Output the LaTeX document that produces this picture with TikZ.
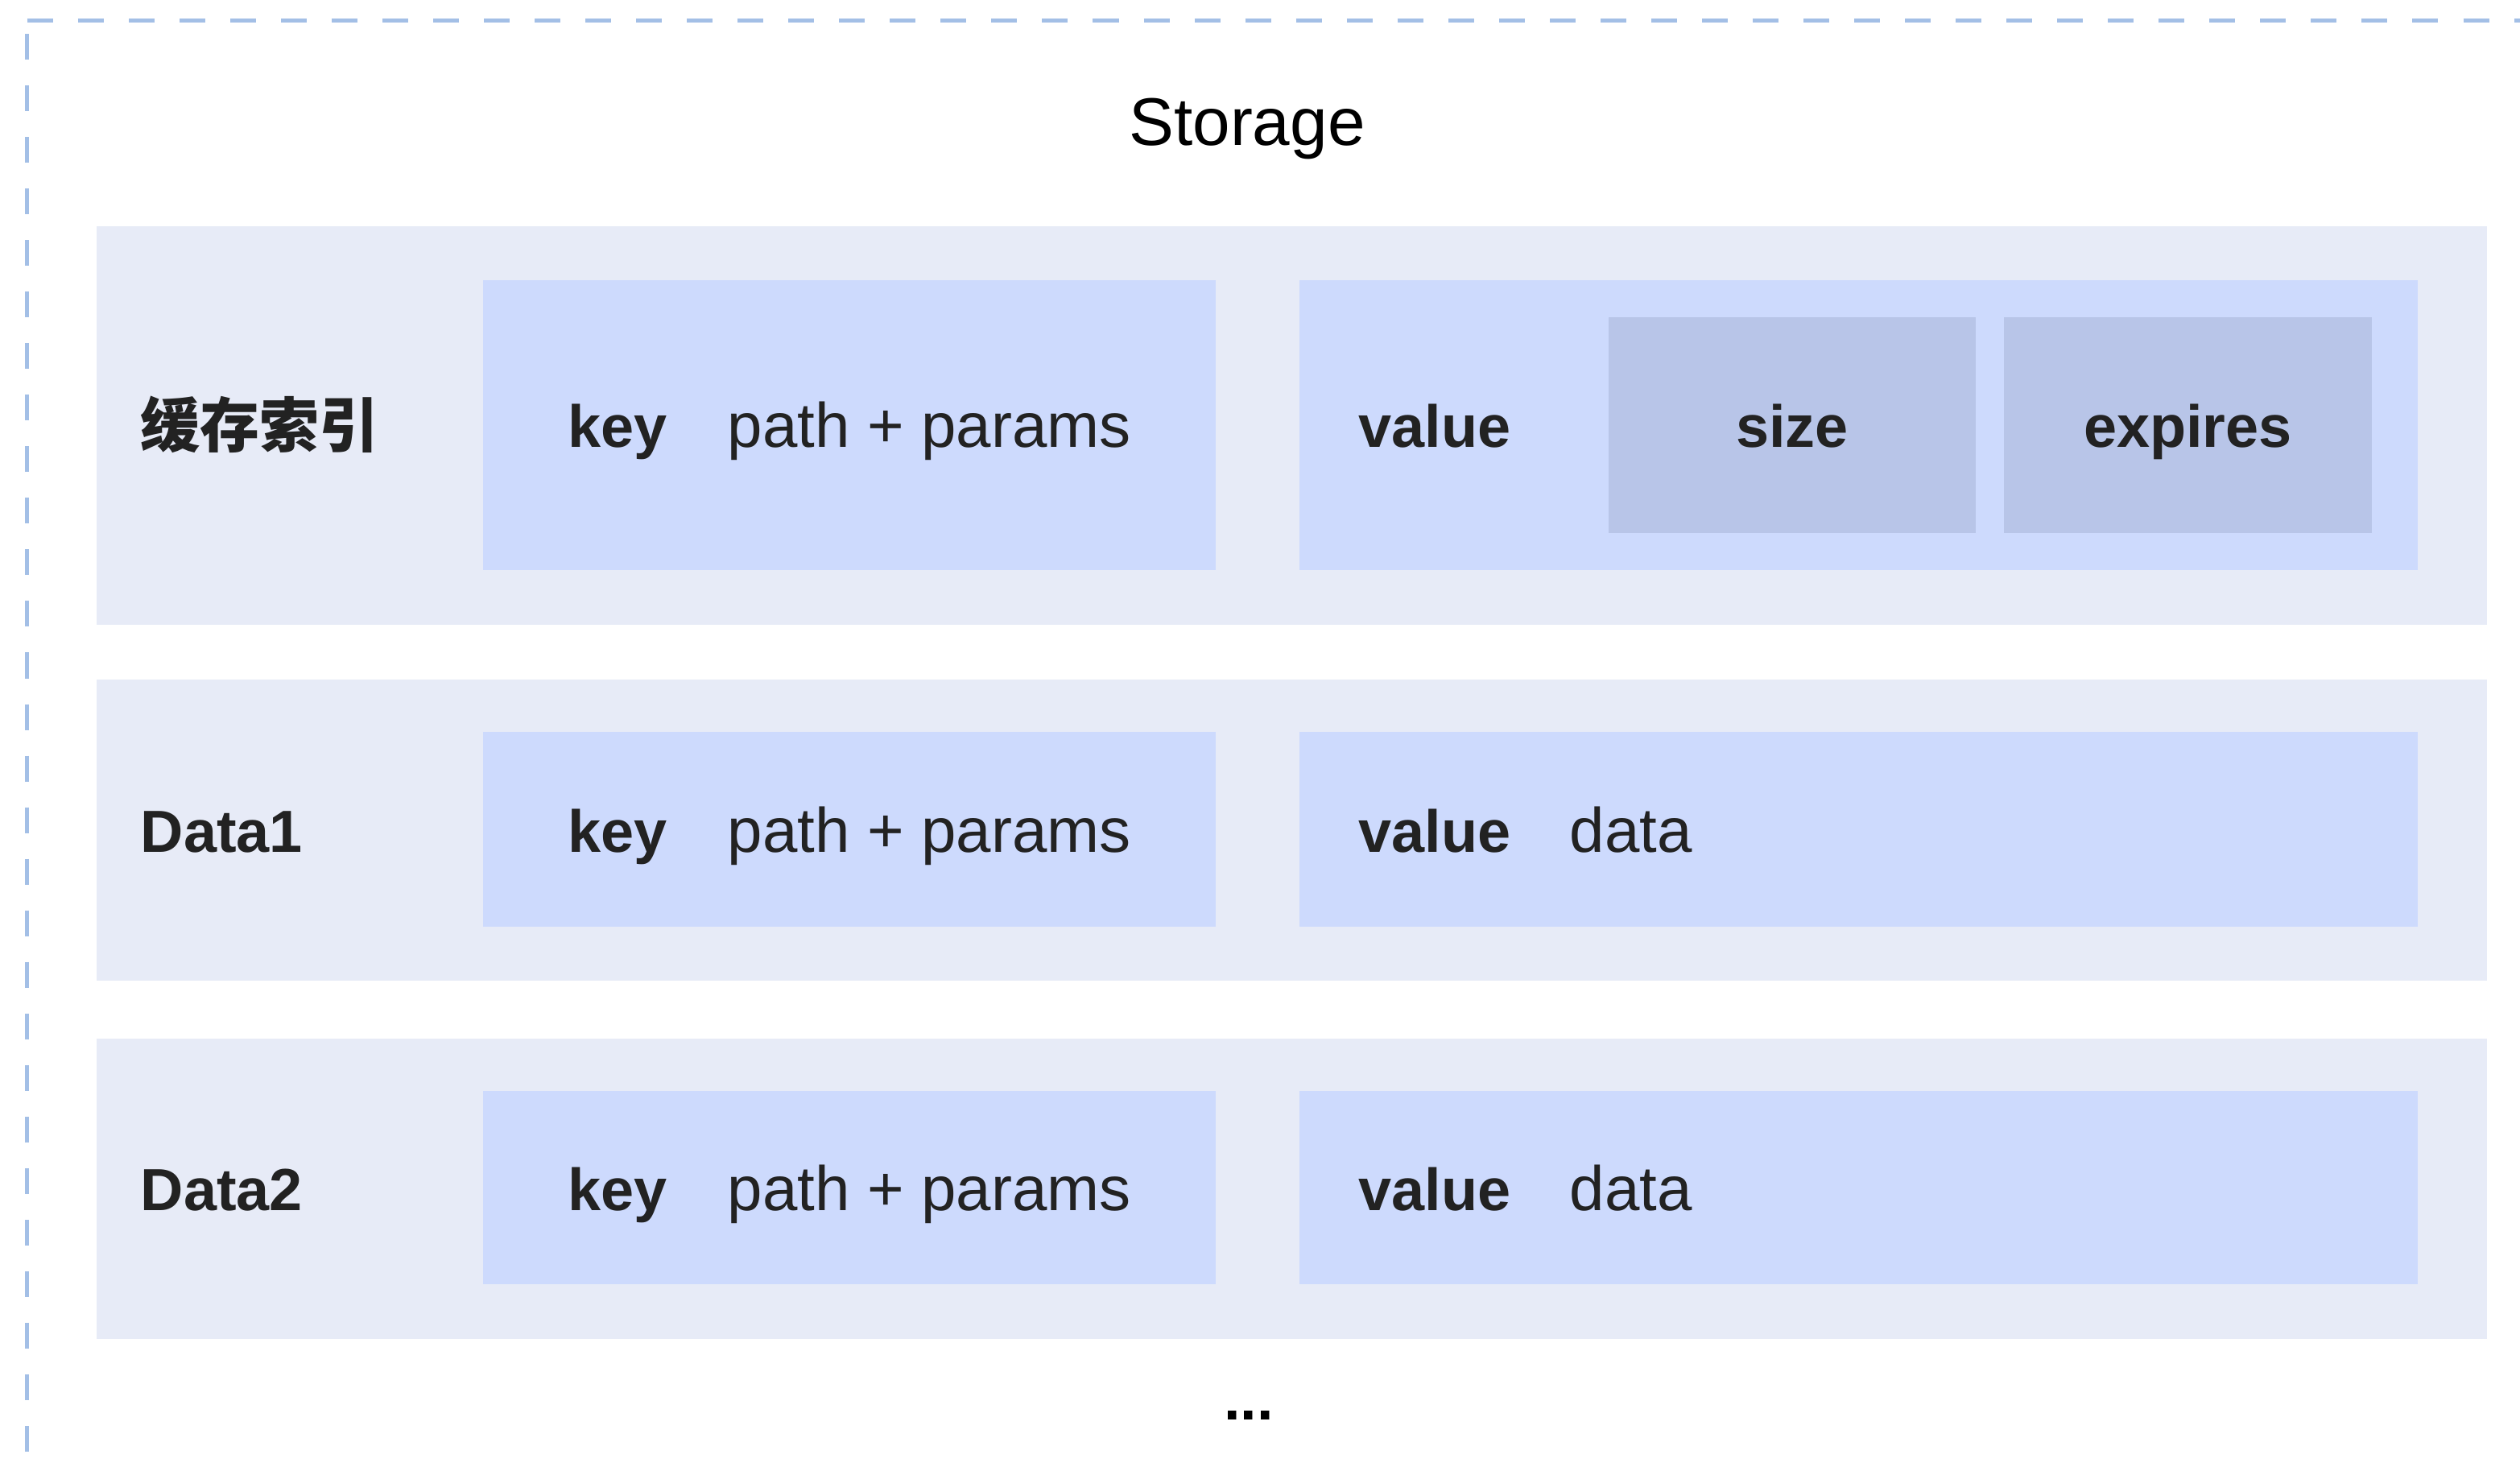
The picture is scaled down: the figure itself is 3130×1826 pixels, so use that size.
\documentclass[tikz,border=0pt]{standalone}
\usepackage{fontspec}
\setmainfont{Liberation Sans}
\newfontfamily\cjk{Noto Sans CJK SC}
\definecolor{framecol}{HTML}{A3BFE6}
\definecolor{rowcol}{HTML}{E7EBF7}
\definecolor{boxcol}{HTML}{CDDAFD}
\definecolor{subcol}{HTML}{B8C5E8}
\definecolor{txtcol}{HTML}{222222}
\begin{document}
\begin{tikzpicture}[x=0.01cm,y=-0.01cm,
	row_node/.style={rectangle,fill=rowcol,inner sep=0pt,minimum width=29.67cm},
	box_node/.style={rectangle,fill=boxcol,inner sep=0pt},
	sub_node/.style={rectangle,fill=subcol,inner sep=0pt,minimum width=4.56cm,minimum height=2.68cm},
	txt_node/.style={inner sep=0pt,anchor=base west,text=txtcol,font=\fontsize{22.2}{26}\selectfont},
	bold_node/.style={txt_node,font=\fontsize{21}{25}\selectfont\bfseries}]
		
		\useasboundingbox (0,0) rectangle (3130,1826);
		\draw[framecol,line width=0.05cm,dash pattern=on 0.32cm off 0.31cm] (33.7,25.7) -- (3130,25.7);
		\draw[framecol,line width=0.05cm,dash pattern=on 0.32cm off 0.32cm] (33.7,42) -- (33.7,1826);
		
		\node[inner sep=0pt,anchor=base,font=\fontsize{23.8}{28}\selectfont] (title) at (1549,180) {Storage};
		
		\node[row_node,minimum height=4.95cm] (r1) at (1604.5,528.5) {};
		\node[row_node,minimum height=3.74cm] (r2) at (1604.5,1031) {};
		\node[row_node,minimum height=3.73cm] (r3) at (1604.5,1476.5) {};
		
		\node[box_node,minimum width=9.10cm,minimum height=3.60cm] (k1) at (1055,528) {};
		\node[box_node,minimum width=13.89cm,minimum height=3.60cm] (v1) at (2308.5,528) {};
		\node[sub_node] (size) at (2226,528) {};
		\node[sub_node] (exp) at (2717.5,528) {};
		
		\node[box_node,minimum width=9.10cm,minimum height=2.42cm] (k2) at (1055,1030) {};
		\node[box_node,minimum width=13.89cm,minimum height=2.42cm] (v2) at (2308.5,1030) {};
		
		\node[box_node,minimum width=9.10cm,minimum height=2.40cm] (k3) at (1055,1475) {};
		\node[box_node,minimum width=13.89cm,minimum height=2.40cm] (v3) at (2308.5,1475) {};
		
		\node[bold_node] (l1) at (174,555) {\cjk 缓存索引};
		\node[bold_node] (kl1) at (705,555) {key};
		\node[txt_node] (kt1) at (903,555) {path + params};
		\node[bold_node] (vl1) at (1687,555) {value};
		\node[bold_node,anchor=base] (st) at (2226,555) {size};
		\node[bold_node,anchor=base] (et) at (2717.5,555) {expires};
		
		\node[bold_node] (l2) at (174,1058) {Data1};
		\node[bold_node] (kl2) at (705,1058) {key};
		\node[txt_node] (kt2) at (903,1058) {path + params};
		\node[bold_node] (vl2) at (1687,1058) {value};
		\node[txt_node] (vt2) at (1949,1058) {data};
		
		\node[bold_node] (l3) at (174,1503) {Data2};
		\node[bold_node] (kl3) at (705,1503) {key};
		\node[txt_node] (kt3) at (903,1503) {path + params};
		\node[bold_node] (vl3) at (1687,1503) {value};
		\node[txt_node] (vt3) at (1949,1503) {data};
		
		\node[inner sep=0pt,anchor=base,font=\fontsize{21}{25}\selectfont\bfseries] (more) at (1551,1763) {...};
		\end{tikzpicture}
\end{document}
